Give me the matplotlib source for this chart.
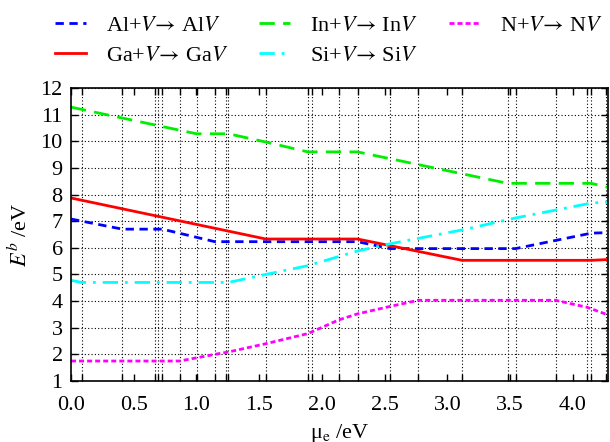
import matplotlib
matplotlib.use('Agg')
import matplotlib.pyplot as plt

plt.rcParams['font.family'] = ['Liberation Serif', 'DejaVu Serif']
plt.rcParams['mathtext.fontset'] = 'stix'

# data
x_in = [0, 1.0, 1.255, 1.553, 1.888, 2.284, 3.481, 4.147, 4.28]
y_in = [11.28, 10.28, 10.28, 9.97, 9.6, 9.6, 8.42, 8.42, 8.27]

x_ga = [0, 1.553, 2.284, 3.117, 4.147, 4.28]
y_ga = [7.87, 6.33, 6.33, 5.53, 5.53, 5.56]

x_al = [0, 0.409, 0.728, 1.146, 2.284, 2.543, 3.543, 4.147, 4.28]
y_al = [7.08, 6.7, 6.7, 6.23, 6.23, 5.97, 5.97, 6.55, 6.57]

x_si = [0, 0.085, 1.255, 1.553, 1.888, 2.284, 2.543, 3.117, 3.543, 4.147, 4.28]
y_si = [4.78, 4.7, 4.7, 5.0, 5.33, 5.88, 6.15, 6.67, 7.12, 7.68, 7.72]

x_n = [0, 0.867, 1.146, 1.255, 1.553, 1.888, 2.138, 2.284, 2.543, 2.769, 3.862, 4.112, 4.28]
y_n = [1.75, 1.75, 2.0, 2.09, 2.40, 2.78, 3.3, 3.52, 3.80, 4.03, 4.03, 3.77, 3.48]

vgrid = [0.085, 0.409, 0.672, 0.694, 0.728, 0.867, 1.007, 1.146, 1.234, 1.255,
         1.553, 1.888, 1.920, 2.138, 2.284, 2.543, 2.769, 3.117, 3.481, 3.543,
         3.862, 4.112, 4.147, 4.267]
xticks = [0, 0.5, 1.0, 1.5, 2.0, 2.5, 3.0, 3.5, 4.0]
yticks = list(range(1, 13))

fig = plt.figure(figsize=(6.10, 4.42), dpi=100)
ax = fig.add_axes([0.1164, 0.138, 0.8803, 0.663])

lw = 2.0
ax.plot(x_al, y_al, color='#0000ff', lw=lw, dashes=(3, 2), label=r'Al+$V\!\rightarrow\,$Al$V$')
ax.plot(x_ga, y_ga, color='#ff0000', lw=lw, label=r'Ga+$V\!\rightarrow\,$Ga$V$')
ax.plot(x_in, y_in, color='#00ee00', lw=lw, dashes=(5.5, 3), label=r'In+$V\!\rightarrow\,$In$V$')
ax.plot(x_si, y_si, color='#00ffff', lw=lw, dashes=(5.5, 2.5, 1, 2.5), label=r'Si+$V\!\rightarrow\,$Si$V$')
ax.plot(x_n, y_n, color='#ff00ff', lw=lw, dashes=(1.8, 1.1), label=r'N+$V\!\rightarrow\,$N$V$')

ax.set_xlim(0, 4.28)
ax.set_ylim(1, 12)
ax.set_xticks(xticks)
ax.set_xticklabels(['%.1f' % t for t in xticks])
ax.set_xticks(vgrid, minor=True)
ax.set_yticks(yticks)
ax.tick_params(which='both', direction='in', top=True, right=True, labelsize=16,
               length=5, width=1)
ax.tick_params(axis='x', pad=11)
ax.tick_params(axis='y', pad=6)
ax.xaxis.grid(True, which='minor', color='black', ls=(0, (1, 2)), lw=0.8)
ax.yaxis.grid(True, which='major', color='black', ls=(0, (1, 2)), lw=0.8)
for s in ax.spines.values():
    s.set_linewidth(1.2)

ax.set_xlabel(r'μ$_\mathrm{e}$ /eV', fontsize=16, labelpad=5)
ax.set_ylabel(r'$E^b$ /eV', fontsize=16, labelpad=6)

fig.legend(loc='upper left', bbox_to_anchor=(0.057, 1.01), ncol=3, frameon=False,
           fontsize=16, handlelength=1.4, handletextpad=0.9, columnspacing=1.4,
           labelspacing=0.4)

fig.savefig('out.png', dpi=100)
